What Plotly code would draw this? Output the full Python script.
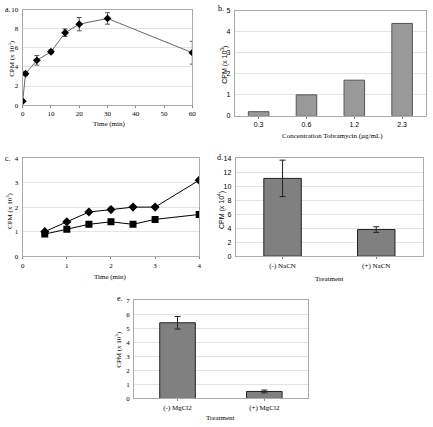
import plotly.graph_objects as go

W, H = 433, 427

# Panel a data
a_time = [0, 1, 5, 10, 15, 20, 30, 60]
a_cpm = [0.4, 3.3, 4.7, 5.6, 7.6, 8.5, 9.1, 5.5]
a_err = [0.1, 0.2, 0.5, 0.2, 0.4, 0.7, 0.6, 1.2]

# Panel b data
b_conc = ["0.3", "0.6", "1.2", "2.3"]
b_cpm = [0.2, 1.0, 1.7, 4.4]

# Panel c data
c_time = [0.5, 1, 1.5, 2, 2.5, 3, 4]
c_diamond = [1.0, 1.4, 1.8, 1.9, 2.0, 2.0, 3.1]
c_square = [0.9, 1.1, 1.3, 1.4, 1.3, 1.5, 1.7]

# Panel d data
d_treat = ["(-) NaCN", "(+) NaCN"]
d_cpm = [11.1, 3.8]
d_err = [2.6, 0.4]

# Panel e data
e_treat = ["(-) MgCl2", "(+) MgCl2"]
e_cpm = [5.4, 0.5]
e_err = [0.45, 0.1]

SERIF = "Liberation Serif"
SANS = "Liberation Sans"

def xd(x0, x1):
    return [x0 / W, x1 / W]

def yd(y0, y1):
    return [1 - y1 / H, 1 - y0 / H]

fig = go.Figure()

# a
fig.add_trace(go.Scatter(x=a_time, y=a_cpm, mode="lines+markers",
                         line=dict(color="#666666", width=1),
                         marker=dict(symbol="diamond", size=6, color="black"),
                         error_y=dict(type="data", array=a_err, color="#555555", thickness=1, width=2.5),
                         xaxis="x", yaxis="y", showlegend=False))
# b
fig.add_trace(go.Bar(x=b_conc, y=b_cpm, width=0.43,
                     marker=dict(color="#999999", line=dict(color="#555555", width=1)),
                     xaxis="x2", yaxis="y2", showlegend=False))
# c
fig.add_trace(go.Scatter(x=c_time, y=c_diamond, mode="lines+markers",
                         line=dict(color="black", width=1),
                         marker=dict(symbol="diamond", size=7, color="black"),
                         xaxis="x3", yaxis="y3", showlegend=False))
fig.add_trace(go.Scatter(x=c_time, y=c_square, mode="lines+markers",
                         line=dict(color="black", width=1),
                         marker=dict(symbol="square", size=7, color="black"),
                         xaxis="x3", yaxis="y3", showlegend=False))
# d
fig.add_trace(go.Bar(x=d_treat, y=d_cpm, width=0.4,
                     marker=dict(color="#808080", line=dict(color="#222222", width=1)),
                     error_y=dict(type="data", array=d_err, color="#222222", thickness=1, width=3),
                     xaxis="x4", yaxis="y4", showlegend=False))
# e
fig.add_trace(go.Bar(x=e_treat, y=e_cpm, width=0.41,
                     marker=dict(color="#808080", line=dict(color="#222222", width=1)),
                     error_y=dict(type="data", array=e_err, color="#222222", thickness=1, width=3),
                     xaxis="x5", yaxis="y5", showlegend=False))

frame = dict(showline=True, linecolor="#aaaaaa", linewidth=1, mirror=True, zeroline=False)
grid = dict(showgrid=True, gridcolor="#e4e4e4", gridwidth=1)
tkx = dict(ticks="outside", ticklen=2, tickcolor="#888888")
tky = dict(ticks="", ticklabelstandoff=2)

layout = dict(width=W, height=H, margin=dict(l=0, r=0, t=0, b=0),
              paper_bgcolor="white", plot_bgcolor="white",
              font=dict(family=SERIF, size=7, color="black"))

layout["xaxis"] = dict(domain=xd(21, 193), anchor="y", range=[0, 60], tickvals=[0, 10, 20, 30, 40, 50, 60],
                       showgrid=False, tickfont=dict(family=SERIF, size=7), **frame, **tkx)
layout["yaxis"] = dict(domain=yd(6, 103), anchor="x", range=[0, 10], tickvals=[0, 2, 4, 6, 8, 10],
                       tickfont=dict(family=SERIF, size=7), **grid, **frame, **tky)

layout["xaxis2"] = dict(domain=xd(236, 430), anchor="y2", showgrid=False,
                        tickfont=dict(family=SANS, size=7), **frame, **tkx)
layout["yaxis2"] = dict(domain=yd(7, 114), anchor="x2", range=[0, 5], tickvals=[0, 1, 2, 3, 4, 5],
                        tickfont=dict(family=SANS, size=7), **grid, **frame, **tky)

layout["xaxis3"] = dict(domain=xd(21, 200), anchor="y3", range=[0, 4], tickvals=[0, 1, 2, 3, 4],
                        showgrid=False, tickfont=dict(family=SERIF, size=7), **frame, **tkx)
layout["yaxis3"] = dict(domain=yd(157, 257), anchor="x3", range=[0, 4], tickvals=[0, 1, 2, 3, 4],
                        tickfont=dict(family=SERIF, size=7), **grid, **frame, **tky)

layout["xaxis4"] = dict(domain=xd(237, 427), anchor="y4", showgrid=False,
                        tickfont=dict(family=SERIF, size=7), **frame, **tkx)
layout["yaxis4"] = dict(domain=yd(157, 257), anchor="x4", range=[0, 14], tickvals=[0, 2, 4, 6, 8, 10, 12, 14],
                        tickfont=dict(family=SANS, size=7), **grid, **frame, **tky)

layout["xaxis5"] = dict(domain=xd(134, 310), anchor="y5", showgrid=False,
                        tickfont=dict(family=SERIF, size=7), **frame, **tkx)
layout["yaxis5"] = dict(domain=yd(302, 402), anchor="x5", range=[0, 7], tickvals=[0, 1, 2, 3, 4, 5, 6, 7],
                        tickfont=dict(family=SERIF, size=7), **grid, **frame, **tky)

def ann(text, px, py, family=SERIF, size=7, angle=0, xanchor="center"):
    return dict(text=text, x=px / W, y=1 - py / H, xref="paper", yref="paper",
                showarrow=False, textangle=angle, xanchor=xanchor, yanchor="middle",
                font=dict(family=family, size=size, color="black"))

annotations = [
    ann("a.", 1, 6, xanchor="left", size=8),
    ann("b.", 217, 5, xanchor="left", size=8),
    ann("c.", 1, 157, xanchor="left", size=8),
    ann("d.", 216, 156, xanchor="left", size=8),
    ann("e.", 115, 300, xanchor="left", size=8),
    ann("CPM (x 10<sup>5</sup>)", 10, 55, angle=-90),
    ann("Time (min)", 108, 122),
    ann("CPM (x 10<sup>3</sup>)", 226, 62, family=SANS, angle=-90),
    ann("Concentration Tobramycin (µg/mL)", 335, 135),
    ann("CPM (x 10<sup>3</sup>)", 7, 210, angle=-90),
    ann("Time (min)", 110, 278),
    ann("CPM (x 10<sup>4</sup>)", 222, 210, family=SANS, angle=-90),
    ann("Treatment", 332, 280),
    ann("CPM (x 10<sup>3</sup>)", 118, 352, angle=-90),
    ann("Treatment", 222, 422),
]
layout["annotations"] = annotations

fig.update_layout(**layout)
fig.write_html("out.html", config={"displayModeBar": False},
               post_script="document.body.style.margin='0';document.body.style.overflow='hidden';")
